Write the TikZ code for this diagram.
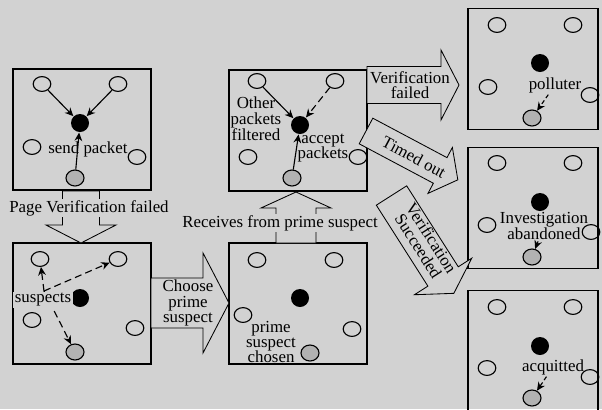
\documentclass[tikz,border=0pt]{standalone}
\usepackage{fontspec}
\setmainfont{Liberation Serif}
\usetikzlibrary{arrows.meta,shapes.geometric}
\colorlet{bg}{gray!35}
\tikzset{
  panel/.style={draw, line width=1.2pt, minimum width=3.45cm, minimum height=3.025cm},
  peer/.style={ellipse, draw, line width=0.8pt, inner sep=0pt, minimum width=4.4mm, minimum height=3.7mm},
  host/.style={circle, fill=black, inner sep=0pt, minimum size=4.5mm},
  suspect/.style={ellipse, draw, fill=gray!60, line width=0.8pt, inner sep=0pt, minimum width=4.5mm, minimum height=4mm},
  lbl/.style={font=\fontsize{12}{11}\selectfont, align=center, inner sep=1pt},
  hollow/.style={draw, fill=bg, line width=0.6pt},
  pics/blockarrow/.style n args={4}{code={
    \draw[hollow] (0,-#2) -- (#1,-#2) -- (#1,-#3) -- (#1+#4,0) -- (#1,#3) -- (#1,#2) -- (0,#2) -- cycle;
  }}
}

\begin{document}
\begin{tikzpicture}[x=0.025cm, y=-0.025cm, line width=0.8pt, >={Stealth[length=6pt,width=5.5pt]}]
\fill[bg] (0,0) rectangle (602,409);
\path[use as bounding box] (0,0) rectangle (602,409);
\clip (0,0) rectangle (602,409);
\node[panel] (P1) at (82,129.5) {};
\node[panel] (P2) at (82,303.5) {};
\node[panel] (P3) at (298,303.5) {};
\node[panel] (P4) at (298,130.5) {};
\node[panel, minimum width=3.25cm] (P5) at (533,69) {};
\node[panel, minimum width=3.25cm] (P6) at (533,208) {};
\node[panel, minimum width=3.25cm] (P7) at (533,351) {};
\node[peer] (A1) at (42,84) {};
\node[peer] (B1) at (118,84) {};
\node[host] (H1) at (80,123) {};
\node[peer] (C1) at (32,147) {};
\node[peer] (D1) at (137,157) {};
\node[suspect] (S1) at (75,178) {};
\node[peer] (A2) at (40,259) {};
\node[peer] (B2) at (118,259) {};
\node[host] (H2) at (80,298) {};
\node[peer] (C2) at (32,320) {};
\node[peer] (D2) at (135,328) {};
\node[suspect] (S2) at (75,352) {};
\node[peer] (A3) at (257,260) {};
\node[peer] (B3) at (334,260) {};
\node[host] (H3) at (300,298) {};
\node[peer] (C3) at (243,315) {};
\node[peer] (D3) at (352,329) {};
\node[suspect] (S3) at (310,353) {};
\node[peer] (A4) at (257,81) {};
\node[peer] (B4) at (335,81) {};
\node[host] (H4) at (300,125) {};
\node[peer] (C4) at (248,157) {};
\node[peer] (D4) at (358,157) {};
\node[suspect] (S4) at (292,178) {};
\node[peer] (A5) at (497,25) {};
\node[peer] (B5) at (573,25) {};
\node[host] (H5) at (540,63) {};
\node[peer] (C5) at (488,87) {};
\node[peer] (D5) at (590,95) {};
\node[suspect] (S5) at (532,118) {};
\node[peer] (A6) at (497,163) {};
\node[peer] (B6) at (573,163) {};
\node[host] (H6) at (540,202) {};
\node[peer] (C6) at (487,225) {};
\node[peer] (D6) at (591,232) {};
\node[suspect] (S6) at (532,257) {};
\node[peer] (A7) at (497,307) {};
\node[peer] (B7) at (573,307) {};
\node[host] (H7) at (540,346) {};
\node[peer] (C7) at (487,368) {};
\node[peer] (D7) at (590,377) {};
\node[suspect] (S7) at (532,398) {};
\coordinate (O2) at (44,291);
\draw[->] (A1) -- (H1);
\draw[->] (B1) -- (H1);
\draw[->] (S1) -- (H1);
\draw[->] (A4) -- (H4);
\draw[->, dash pattern=on 5pt off 3pt] (B4) -- (H4);
\draw[->] (S4) -- (H4);
\draw[->, dash pattern=on 5pt off 3pt] (O2) -- (A2);
\draw[->, dash pattern=on 5pt off 3pt] (O2) -- (B2);
\draw[->, dash pattern=on 5pt off 3pt] (O2) -- (S2);
\node[lbl] (send) at (88,149) {send packet};
\node[lbl, fill=bg] (susp) at (43,300) {suspects};
\node[lbl] (chosen) at (271,342) {prime\\suspect\\chosen};
\node[lbl] (other) at (256,119) {Other\\packets\\filtered};
\node[lbl] (accept) at (323,148) {accept\\packets};
\node[lbl] (poll) at (555,85) {polluter};
\node[lbl] (aband) at (544,226) {Investigation\\abandoned};
\node[lbl] (acq) at (553,367) {acquitted};
\draw[->, dash pattern=on 3pt off 2pt] (poll) -- (S5);
\draw[->] (aband) -- (S6);
\draw[->, dash pattern=on 3pt off 2pt] (acq) -- (S7);
\pic[rotate=-90] at (81,191) {blockarrow={34}{18.5}{35}{18}};
\pic at (151,303) {blockarrow={52}{25}{50}{26}};
\pic[rotate=90] at (296,243) {blockarrow={35}{20}{35}{16}};
\pic at (367,85) {blockarrow={74}{18.5}{35}{18}};
\pic[rotate=-28] at (366,131) {blockarrow={84}{14.5}{26}{20}};
\pic[rotate=-57.5] at (391.5,195.5) {blockarrow={96}{18}{34}{20}};
\node[lbl, fill=bg] (pvf) at (89,208) {Page Verification failed};
\node[lbl] (cps) at (188,303) {Choose\\prime\\suspect};
\node[lbl, fill=bg] (rps) at (280,223) {Receives from prime suspect};
\node[lbl] (vf) at (410,85) {Verification\\failed};
\node[lbl, rotate=-28] (tmo) at (414,157) {Timed out};
\node[lbl, rotate=-57.5] (vs) at (425,242) {Verification\\Succeeded};
\end{tikzpicture}
\end{document}
